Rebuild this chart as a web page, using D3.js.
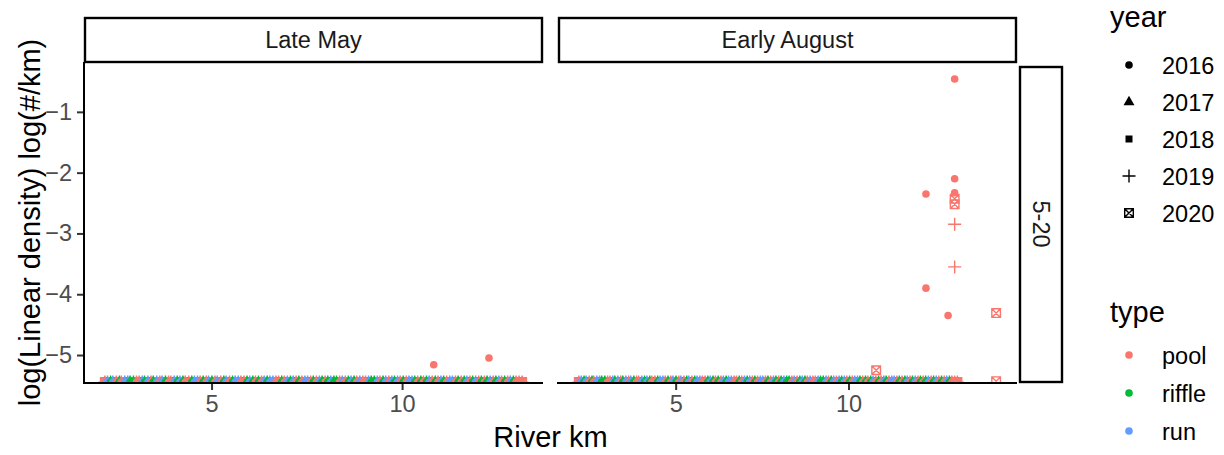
<!DOCTYPE html>
<html>
<head>
<meta charset="utf-8">
<script src="https://cdn.jsdelivr.net/npm/d3@7"></script>
<style>
  body { margin: 0; background: #fff; }
  text { font-family: "Liberation Sans", Arial, sans-serif; }
</style>
</head>
<body>
<svg id="chart" width="1224" height="455"></svg>
<script>
/* Data */
var periods = ["Late May", "Early August"];
var years = [2016, 2017, 2018, 2019, 2020];
var types = ["pool", "riffle", "run"];
var rowLabel = "5-20";
var xTicks = [5, 10];
var yTicks = [-5, -4, -3, -2, -1];
var yLimits = [-5.46, -0.18];
var zeroValue = -5.445;

// habitat units surveyed (river km) and their type code p/f/r
var unitKm = [
  2.20,2.27,2.35,2.41,2.50,2.58,2.63,2.72,2.80,2.86,
  2.95,3.03,3.10,3.18,3.24,3.33,3.41,3.47,3.56,3.64,
  3.70,3.79,3.87,3.93,4.02,4.10,4.17,4.25,4.31,4.40,
  4.48,4.55,4.63,4.70,4.78,4.86,4.92,5.01,5.09,5.15,
  5.24,5.32,5.38,5.47,5.55,5.62,5.70,5.77,5.85,5.93,
  6.00,6.08,6.15,6.23,6.31,6.38,6.46,6.53,6.61,6.69,
  6.76,6.84,6.91,6.99,7.07,7.14,7.22,7.29,7.37,7.45,
  7.52,7.60,7.67,7.75,7.83,7.90,7.98,8.05,8.13,8.21,
  8.28,8.36,8.43,8.51,8.59,8.66,8.74,8.81,8.89,8.97,
  9.04,9.12,9.19,9.27,9.35,9.42,9.50,9.57,9.65,9.73,
  9.80,9.88,9.95,10.03,10.11,10.18,10.26,10.33,10.41,10.49,
  10.56,10.64,10.71,10.79,10.87,10.94,11.02,11.09,11.17,11.25,
  11.32,11.40,11.47,11.55,11.63,11.70,11.78,11.85,11.93,12.01,
  12.08,12.16,12.23,12.31,12.39,12.46,12.54,12.61,12.69,12.77,
  12.84,12.92,12.99,13.07,13.15
];
var unitCode = ("prfrpfprrf" + "fpprfrpfrp" + "rfpprfrfpp" + "frrpfprfpr" + "pfrpfrrppf" +
  "rfpfprfrrp" + "pfprfrpfpr" + "rpfprfpfrf" + "fprpfrfprp" + "prffrpfrpr" +
  "frpfprrfpf" + "pfrpfprfpr" + "rpfpfrpfrp" + "fpfrpfrpfp" + "rfppp").split("");

// non-zero (and off-grid) observations
var obsPeriod = ["Late May", "Late May",
  "Early August", "Early August", "Early August", "Early August", "Early August", "Early August",
  "Early August", "Early August",
  "Early August", "Early August", "Early August", "Early August", "Early August"];
var obsYear = [2016, 2016,
  2016, 2016, 2016, 2016, 2016, 2016,
  2019, 2019,
  2020, 2020, 2020, 2020, 2020];
var obsKm = [10.83, 12.28,
  13.07, 13.07, 12.24, 13.07, 12.24, 12.88,
  13.07, 13.07,
  13.07, 13.07, 14.27, 10.80, 14.27];
var obsValue = [-5.16, -5.05,
  -0.46, -2.10, -2.35, -2.33, -3.90, -4.35,
  -2.85, -3.55,
  -2.43, -2.52, -4.31, -5.25, -5.43];
var obsType = ["pool", "pool",
  "pool", "pool", "pool", "pool", "pool", "pool",
  "pool", "pool",
  "pool", "pool", "pool", "pool", "pool"];

/* Scales and layout */
var codeType = { p: "pool", f: "riffle", r: "run" };
var color = d3.scaleOrdinal().domain(types).range(["#F8766D", "#00BA38", "#619CFF"]);

var panelTop = 62, panelBottom = 383;
var panelX = [[84, 543], [558, 1017]];

var y = d3.scaleLinear().domain(yLimits).range([panelBottom, panelTop]);

var svg = d3.select("svg#chart");

function shape(year) {
  if (year === 2016) return d3.symbol(d3.symbolCircle, Math.PI * 3.8 * 3.8)();
  if (year === 2017) return d3.symbol(d3.symbolTriangle, 52)();
  if (year === 2018) return d3.symbol(d3.symbolSquare, 49)();
  if (year === 2019) return "M-6.5,0H6.5M0,-6.5V6.5";
  return "M-4.3,-4.3H4.3V4.3H-4.3ZM-4.3,-4.3L4.3,4.3M4.3,-4.3L-4.3,4.3";
}
function isOpen(year) { return year === 2019 || year === 2020; }

function panelData(period) {
  var rows = [];
  // zero rows, later years first so filled shapes end up on top
  years.slice().reverse().forEach(yr => {
    unitKm.forEach((km, i) => {
      rows.push({ km: km, value: zeroValue, year: yr, type: codeType[unitCode[i]] });
    });
  });
  obsPeriod.forEach((p, i) => {
    if (p === period) rows.push({ km: obsKm[i], value: obsValue[i], year: obsYear[i], type: obsType[i] });
  });
  return rows;
}

function drawPanel(period, idx) {
  var rows = panelData(period);
  var ext = d3.extent(rows, d => d.km);
  var pad = (ext[1] - ext[0]) * 0.05;
  var x = d3.scaleLinear().domain([ext[0] - pad, ext[1] + pad]).range(panelX[idx]);
  var x0 = panelX[idx][0], x1 = panelX[idx][1];

  svg.append("clipPath").attr("id", "clip" + idx)
    .append("rect")
    .attr("x", x0).attr("y", panelTop)
    .attr("width", x1 - x0).attr("height", panelBottom - panelTop);

  svg.append("g")
    .attr("clip-path", `url(#clip${idx})`)
    .selectAll("path")
    .data(rows)
    .enter()
    .append("path")
    .attr("transform", d => `translate(${x(d.km)},${y(d.value)})`)
    .attr("d", d => shape(d.year))
    .attr("fill", d => isOpen(d.year) ? "none" : color(d.type))
    .attr("stroke", d => isOpen(d.year) ? color(d.type) : "none")
    .attr("stroke-width", 1.4);

  // x axis
  var gx = svg.append("g")
    .attr("transform", `translate(0,${panelBottom})`)
    .call(d3.axisBottom(x).tickValues(xTicks).tickSize(7).tickPadding(5).tickFormat(d3.format("d")));
  gx.select(".domain").remove();
  gx.selectAll(".tick line").attr("stroke", "#333").attr("stroke-width", 2);
  gx.selectAll(".tick text").attr("fill", "#4D4D4D").style("font-size", "23.5px");
  svg.append("line")
    .attr("x1", x0 - 1).attr("x2", x1)
    .attr("y1", panelBottom).attr("y2", panelBottom)
    .attr("stroke", "#000").attr("stroke-width", 2);

  // strip
  svg.append("rect")
    .attr("x", x0 + 1).attr("y", 18)
    .attr("width", x1 - x0 - 2).attr("height", 44)
    .attr("fill", "#fff").attr("stroke", "#000").attr("stroke-width", 2.4);
  svg.append("text")
    .attr("x", (x0 + x1) / 2).attr("y", 48)
    .attr("text-anchor", "middle")
    .attr("fill", "#1A1A1A")
    .style("font-size", "23.5px")
    .text(period);
}

periods.forEach(drawPanel);

// y axis on the first panel only
var gy = svg.append("g")
  .attr("transform", `translate(${panelX[0][0]},0)`)
  .call(d3.axisLeft(y).tickValues(yTicks).tickSize(7).tickPadding(5).tickFormat(d3.format("d")));
gy.select(".domain").remove();
gy.selectAll(".tick line").attr("stroke", "#333").attr("stroke-width", 2);
gy.selectAll(".tick text").attr("fill", "#4D4D4D").style("font-size", "23.5px");
svg.append("line")
  .attr("x1", panelX[0][0]).attr("x2", panelX[0][0])
  .attr("y1", panelTop).attr("y2", panelBottom + 1)
  .attr("stroke", "#000").attr("stroke-width", 2);

// row strip
svg.append("rect")
  .attr("x", 1020).attr("y", 67)
  .attr("width", 42).attr("height", 315)
  .attr("fill", "#fff").attr("stroke", "#000").attr("stroke-width", 2.4);
svg.append("text")
  .attr("transform", "translate(1033,224) rotate(90)")
  .attr("text-anchor", "middle")
  .attr("fill", "#1A1A1A")
  .style("font-size", "23.5px")
  .text(rowLabel);

// axis titles
svg.append("text")
  .attr("x", (panelX[0][0] + panelX[1][1]) / 2).attr("y", 447)
  .attr("text-anchor", "middle")
  .style("font-size", "29px")
  .text("River km");
svg.append("text")
  .attr("transform", `translate(40,${(panelTop + panelBottom) / 2}) rotate(-90)`)
  .attr("text-anchor", "middle")
  .style("font-size", "29px")
  .text("log(Linear density) log(#/km)");

/* Legends */
var legend = svg.append("g");
legend.append("text").attr("x", 1110).attr("y", 27).style("font-size", "29px").text("year");
years.forEach((yr, i) => {
  var cy = 65 + i * 37;
  legend.append("path")
    .attr("transform", `translate(1129,${cy})`)
    .attr("d", shape(yr))
    .attr("fill", isOpen(yr) ? "none" : "#000")
    .attr("stroke", isOpen(yr) ? "#000" : "none")
    .attr("stroke-width", 1.4);
  legend.append("text").attr("x", 1162).attr("y", cy + 8.5)
    .style("font-size", "23.5px").text(yr);
});

legend.append("text").attr("x", 1110).attr("y", 322).style("font-size", "29px").text("type");
types.forEach((t, i) => {
  var cy = 355 + i * 38;
  legend.append("path")
    .attr("transform", `translate(1129,${cy})`)
    .attr("d", shape(2016))
    .attr("fill", color(t));
  legend.append("text").attr("x", 1162).attr("y", cy + 8.5)
    .style("font-size", "23.5px").text(t);
});
</script>
</body>
</html>
